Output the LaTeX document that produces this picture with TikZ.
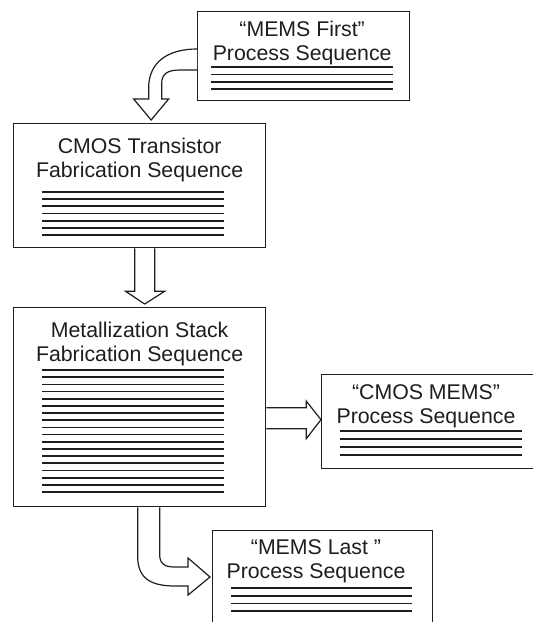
\documentclass[tikz,border=0pt]{standalone}
\usepackage{fontspec}
\setmainfont{Liberation Sans}
\usetikzlibrary{calc}
\definecolor{InkBlack}{RGB}{30,30,30}
\tikzset{
  seqbox/.style   ={rectangle, draw=InkBlack, line width=1.3pt, fill=white,
                    anchor=north west, inner sep=0pt},
  seqtitle/.style ={align=center, inner sep=0pt, anchor=base, text=InkBlack,
                    font=\fontsize{21.3}{23.5}\selectfont},
  seqrule/.style  ={draw=InkBlack, line width=1.7pt},
  blockarr/.style ={draw=InkBlack, line width=1.2pt, fill=white, line join=miter},
}

\begin{document}
\begin{tikzpicture}[x=1pt,y=-1pt]
  \useasboundingbox (0,0) rectangle (533,622);
  \clip (0,0) rectangle (533,622);

  % process boxes
  \node[seqbox,minimum width=212pt,minimum height=89.5pt] (first) at (197,10.5) {};
  \node[seqbox,minimum width=252pt,minimum height=124pt]  (cmos)  at (13,123) {};
  \node[seqbox,minimum width=252pt,minimum height=199pt]  (metal) at (13,307) {};
  \node[seqbox,minimum width=240pt,minimum height=94pt]   (cmems) at (321,373.5) {};
  \node[seqbox,minimum width=220pt,minimum height=120pt]  (last)  at (212,530) {};

  % titles (base = baseline of the second line)
  \node[seqtitle] (firstT) at ($(first.north)+(-1.5,49.5)$) {“MEMS First”\\Process Sequence};
  \node[seqtitle] (cmosT)  at ($(cmos.north)+(0,54)$)       {CMOS Transistor\\Fabrication Sequence};
  \node[seqtitle] (metalT) at ($(metal.north)+(0,54)$)      {Metallization Stack\\Fabrication Sequence};
  \node[seqtitle] (cmemsT) at ($(cmems.north west)+(105,49.5)$) {“CMOS MEMS”\\Process Sequence};
  \node[seqtitle] (lastT)  at ($(last.north west)+(104,48)$)    {“MEMS Last ”\\Process Sequence};

  % step lines under each title
  \foreach \i in {0,...,3}
    \draw[seqrule] ($(first.north west)+(14,56.5+7.4*\i)$) -- ++(182,0);
  \foreach \i in {0,...,6}
    \draw[seqrule] ($(cmos.north west)+(29,69+7.17*\i)$) -- ++(182,0);
  \foreach \i in {0,...,17}
    \draw[seqrule] ($(metal.north west)+(29,63+7.18*\i)$) -- ++(182,0);
  \foreach \i in {0,...,3}
    \draw[seqrule] ($(cmems.north west)+(19,57.5+8*\i)$) -- ++(182,0);
  \foreach \i in {0,...,3}
    \draw[seqrule] ($(last.north west)+(19,58+7.7*\i)$) -- ++(181,0);

  % block arrows
  \draw[blockarr] ($(first.north west)+(0,38.5)$)
      .. controls ($(first.north west)+(-29,38.5)$) and ($(cmos.north)+(9,-61)$) .. ($(cmos.north)+(9,-35)$)
      -- ($(cmos.north)+(9,-24)$) -- ($(cmos.north)+(-6,-24)$) -- ($(cmos.north)+(11.5,-3)$)
      -- ($(cmos.north)+(29,-24)$) -- ($(cmos.north)+(22,-24)$) -- ($(cmos.north)+(22,-39)$)
      .. controls ($(cmos.north)+(22,-49)$) and ($(first.north west)+(-30,59.5)$) .. ($(first.north west)+(-17,59.5)$)
      -- ($(first.north west)+(0,59.5)$);

  \draw[blockarr] ($(cmos.south)+(-5,0)$) -- ++(0,43) -- ++(-9,0) -- ($(metal.north)+(5,-3)$)
      -- ($(cmos.south)+(25,43)$) -- ++(-10,0) -- ($(cmos.south)+(15,0)$);

  \draw[blockarr] ($(metal.east)+(0,0.5)$) -- ++(40,0) -- ++(0,-6.5) -- ($(cmems.west)+(0,-1.5)$)
      -- ($(metal.east)+(40,31.5)$) -- ++(0,-10) -- ($(metal.east)+(0,21.5)$);

  \draw[blockarr] ($(metal.south)+(-2,0)$) -- ($(metal.south)+(-2,49)$)
      .. controls ($(metal.south)+(-2,72)$) and ($(last.north west)+(-60,56)$) .. ($(last.north west)+(-37,56)$)
      -- ($(last.north west)+(-24,56)$) -- ($(last.north west)+(-24,65)$) -- ($(last.north west)+(-2,47)$)
      -- ($(last.north west)+(-24,28)$) -- ($(last.north west)+(-24,37)$) -- ($(last.north west)+(-37,37)$)
      .. controls ($(last.north west)+(-47,37)$) and ($(metal.south)+(20,57)$) .. ($(metal.south)+(20,47)$)
      -- ($(metal.south)+(20,0)$);
\end{tikzpicture}
\end{document}
